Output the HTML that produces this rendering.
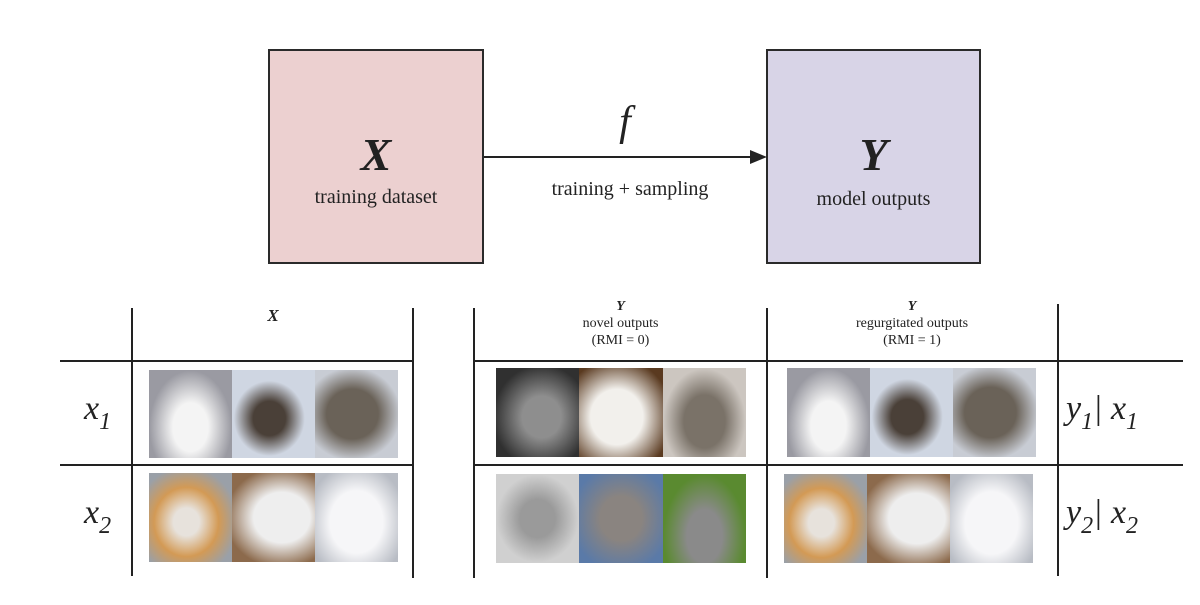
<!DOCTYPE html>
<html><head><meta charset="utf-8"><style>
body{margin:0;width:1200px;height:605px;background:#fff;position:relative;overflow:hidden;font-family:"Liberation Serif",serif;color:#222}
.a{position:absolute}
.box{position:absolute;border:2px solid #2a2a2a;box-sizing:border-box}
.vl{position:absolute;width:2px;background:#222}
.hl{position:absolute;height:2px;background:#222}
.img{position:absolute;display:flex}
.img div{flex:1;height:100%}
.c{text-align:center}
sub{vertical-align:-10px}
</style></head><body>
<div class="box" style="left:268px;top:49px;width:216px;height:215px;background:#ecd0d0"></div>
<div class="box" style="left:766px;top:49px;width:215px;height:215px;background:#d8d4e7"></div>
<div class="a c" style="left:268px;top:130px;width:216px;font-size:46px;font-weight:bold;font-style:italic;line-height:50px">X</div>
<div class="a c" style="left:268px;top:186px;width:216px;font-size:20px">training dataset</div>
<div class="a c" style="left:766px;top:130px;width:215px;font-size:46px;font-weight:bold;font-style:italic;line-height:50px">Y</div>
<div class="a c" style="left:766px;top:188px;width:215px;font-size:20px">model outputs</div>
<div class="hl" style="left:484px;top:156px;width:270px"></div>
<svg class="a" style="left:750px;top:150px" width="18" height="14"><polygon points="0,0 17,7 0,14" fill="#222"/></svg>
<div class="a c" style="left:580px;top:98px;width:90px;font-size:42px;font-style:italic">f</div>
<div class="a c" style="left:520px;top:178px;width:220px;font-size:20px">training + sampling</div>

<div class="vl" style="left:131px;top:308px;height:268px"></div>
<div class="vl" style="left:412px;top:308px;height:270px"></div>
<div class="vl" style="left:473px;top:308px;height:270px"></div>
<div class="vl" style="left:766px;top:308px;height:270px"></div>
<div class="vl" style="left:1057px;top:304px;height:272px"></div>
<div class="hl" style="left:60px;top:360px;width:354px"></div>
<div class="hl" style="left:60px;top:464px;width:354px"></div>
<div class="hl" style="left:474px;top:360px;width:709px"></div>
<div class="hl" style="left:474px;top:464px;width:709px"></div>

<div class="a c" style="left:133px;top:306px;width:280px;font-size:17px;font-weight:bold;font-style:italic">X</div>
<div class="a c" style="left:474px;top:298px;width:293px;font-size:14px;line-height:17px"><b><i>Y</i></b><br>novel outputs<br>(RMI = 0)</div>
<div class="a c" style="left:767px;top:298px;width:290px;font-size:14px;line-height:17px"><b><i>Y</i></b><br>regurgitated outputs<br>(RMI = 1)</div>

<div class="a" style="left:84px;top:390px;font-size:34px;font-style:italic">x<sub style="font-size:24px">1</sub></div>
<div class="a" style="left:84px;top:494px;font-size:34px;font-style:italic">x<sub style="font-size:24px">2</sub></div>
<div class="a" style="left:1066px;top:390px;font-size:34px;font-style:italic">y<sub style="font-size:24px">1</sub>| x<sub style="font-size:24px">1</sub></div>
<div class="a" style="left:1066px;top:494px;font-size:34px;font-style:italic">y<sub style="font-size:24px">2</sub>| x<sub style="font-size:24px">2</sub></div>

<div class="img" style="left:149px;top:370px;width:249px;height:88px">
<div style="background:radial-gradient(ellipse at 50% 65%,#f4f4f4 30%,#9a9aa2 70%)"></div>
<div style="background:radial-gradient(ellipse at 45% 55%,#4a4038 25%,#cfd6e2 55%)"></div>
<div style="background:radial-gradient(ellipse at 45% 50%,#6a6258 40%,#c8ccd4 75%)"></div></div>
<div class="img" style="left:149px;top:473px;width:249px;height:89px">
<div style="background:radial-gradient(ellipse at 45% 55%,#e7e2dc 20%,#d39a55 50%,#9aa0a8 80%)"></div>
<div style="background:radial-gradient(ellipse at 60% 50%,#eeeeee 40%,#8c6a4c 80%)"></div>
<div style="background:radial-gradient(ellipse at 50% 55%,#f6f6f8 45%,#b8bcc4 85%)"></div></div>

<div class="img" style="left:496px;top:368px;width:250px;height:89px">
<div style="background:radial-gradient(ellipse at 55% 55%,#8e8e8e 30%,#303030 75%)"></div>
<div style="background:radial-gradient(ellipse at 45% 55%,#f2f0ec 40%,#5a3a20 85%)"></div>
<div style="background:radial-gradient(ellipse at 50% 60%,#7a7268 35%,#ccc6c0 70%)"></div></div>
<div class="img" style="left:496px;top:474px;width:250px;height:89px">
<div style="background:radial-gradient(ellipse at 50% 50%,#9a9a9a 30%,#d0d0d0 70%)"></div>
<div style="background:radial-gradient(ellipse at 50% 50%,#8a8480 35%,#5a7aa8 85%)"></div>
<div style="background:radial-gradient(ellipse at 50% 70%,#8a8a8a 30%,#5a8a30 70%)"></div></div>

<div class="img" style="left:787px;top:368px;width:249px;height:89px">
<div style="background:radial-gradient(ellipse at 50% 65%,#f4f4f4 30%,#9a9aa2 70%)"></div>
<div style="background:radial-gradient(ellipse at 45% 55%,#4a4038 25%,#cfd6e2 55%)"></div>
<div style="background:radial-gradient(ellipse at 45% 50%,#6a6258 40%,#c8ccd4 75%)"></div></div>
<div class="img" style="left:784px;top:474px;width:249px;height:89px">
<div style="background:radial-gradient(ellipse at 45% 55%,#e7e2dc 20%,#d39a55 50%,#9aa0a8 80%)"></div>
<div style="background:radial-gradient(ellipse at 60% 50%,#eeeeee 40%,#8c6a4c 80%)"></div>
<div style="background:radial-gradient(ellipse at 50% 55%,#f6f6f8 45%,#b8bcc4 85%)"></div></div>
</body></html>
